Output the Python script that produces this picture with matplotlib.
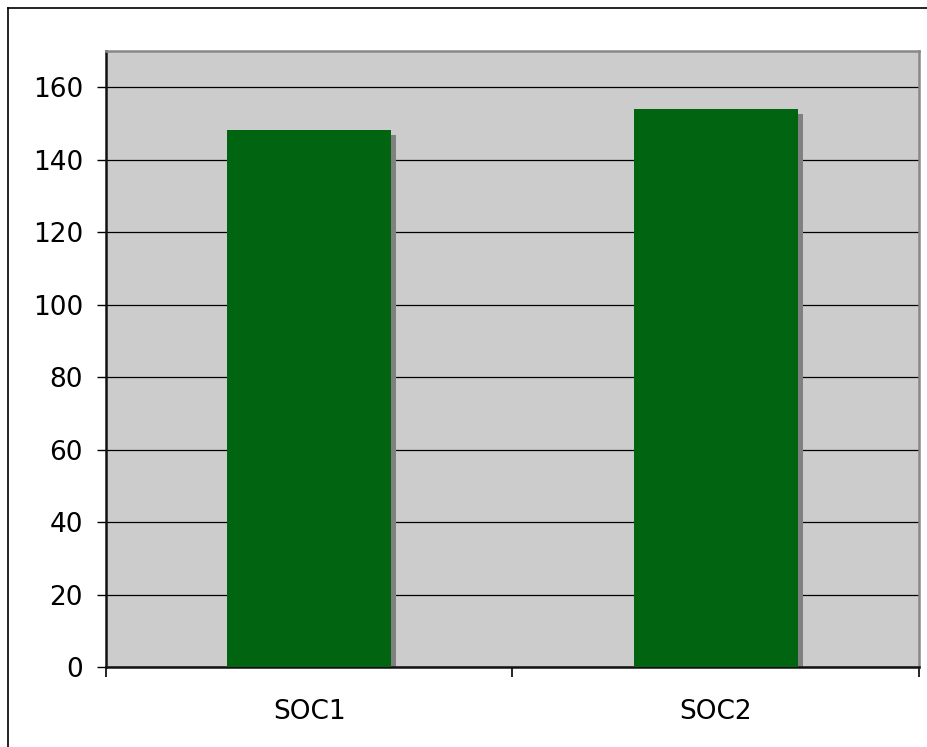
import matplotlib
matplotlib.use("Agg")
import matplotlib.pyplot as plt
import matplotlib.transforms as mtransforms
from matplotlib.lines import Line2D

categories = ["SOC1", "SOC2"]
values = [148.3, 153.9]
yticks = [0, 20, 40, 60, 80, 100, 120, 140, 160]

W, H = 928, 747
fig = plt.figure(figsize=(W / 100, H / 100), dpi=100)
fig.patch.set_facecolor("white")

ax = fig.add_axes([106 / W, (H - 667) / H, (919 - 106) / W, (667 - 51) / H])
ax.set_facecolor("#CCCCCC")

x = list(range(len(categories)))
shadow_tr = mtransforms.offset_copy(ax.transData, fig=fig, x=5, y=-5, units="dots")
ax.bar(x, values, width=0.404, color="#808080", transform=shadow_tr, zorder=2)
ax.bar(x, values, width=0.404, color="#006411", zorder=3)

ax.set_xlim(-0.5, len(categories) - 0.5)
ax.set_ylim(0, 170)
ax.set_yticks(yticks)
ax.set_yticklabels([str(v) for v in yticks])
ax.yaxis.grid(True, color="#000000", linewidth=0.9)
ax.set_axisbelow(True)

ax.set_xticks([-0.5, 0.5, 1.5])
ax.set_xticklabels(["", "", ""])
ax.set_xticks(x, minor=True)
ax.set_xticklabels(categories, minor=True)
ax.tick_params(axis="x", which="minor", length=0, pad=23, labelsize=19)
ax.tick_params(axis="x", which="major", length=7, width=1.2, direction="out", color="black")
ax.tick_params(axis="y", length=6.5, width=1.0, direction="out", color="black", labelsize=19, pad=10)

for s in ["left", "bottom"]:
    ax.spines[s].set_color("#111111")
    ax.spines[s].set_linewidth(1.8)
for s in ["top", "right"]:
    ax.spines[s].set_color("#888888")
    ax.spines[s].set_linewidth(1.8)

fig.add_artist(Line2D([8 / W, 1], [(H - 8) / H, (H - 8) / H], transform=fig.transFigure, color="black", linewidth=1.2))
fig.add_artist(Line2D([8 / W, 8 / W], [0, (H - 8) / H], transform=fig.transFigure, color="black", linewidth=1.2))

fig.savefig("out.png", dpi=100, facecolor="white")
